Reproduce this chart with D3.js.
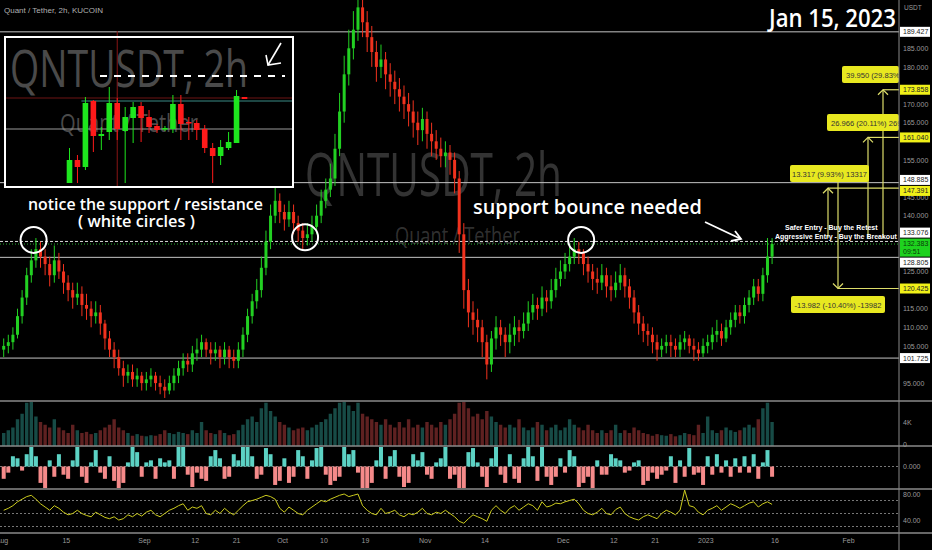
<!DOCTYPE html>
<html><head><meta charset="utf-8">
<script src="https://cdn.jsdelivr.net/npm/d3@7"></script>
<style>html,body{margin:0;background:#000;overflow:hidden}</style>
</head><body><svg id="c" width="932" height="550"></svg>
<script>
// ---------- DATA ----------
const startDay = "2022-08-01";
const firstOpen = 104;
const closes = [
105,106,108,113,118,124,128,131,129,127,
124,128,125,122,120,118,119,116,115,113,
114,111,107,104,102,99,97,98,96,97,
95,96,97,95,94,93,95,97,99,101,
100,103,104,106,104,103,104,102,104,102,
101,104,108,113,117,120,126,133,140,144,
141,139,141,138,136,134,135,137,140,144,
147,150,158,168,178,185,190,196,192,188,
184,180,182,178,176,174,172,170,168,165,
163,166,162,160,158,156,157,155,150,135,
120,114,112,110,106,100,107,110,108,106,
108,110,109,111,114,116,115,118,117,120,
123,125,127,129,131,130,127,125,123,122,
124,121,120,122,124,121,118,114,111,109,
108,106,104,105,106,105,104,106,107,105,
104,103,105,106,108,109,107,110,112,114,
113,116,118,121,119,124,129,132.383];
const highs = [
107,108,110,115,120,126,131,134,133,131,
129,132,130,127,124,122,122,121,119,117,
117,116,112,109,106,104,101,100,100,99,
98,98,99,98,97,96,97,99,101,103,
103,105,107,108,107,106,106,105,106,105,
104,106,110,115,119,123,129,136,143,148,
146,143,144,143,140,138,138,140,143,147,
150,154,162,173,183,190,195,201,199,195,
191,187,186,184,181,179,177,175,173,171,
168,169,168,165,163,161,160,159,157,152,
138,123,117,115,112,108,109,113,112,110,
111,113,112,114,117,119,118,121,120,123,
126,128,130,132,134,133,131,129,127,126,
127,126,124,125,127,126,123,120,116,113,
111,110,108,107,108,108,107,108,109,108,
107,106,107,108,110,112,111,112,114,116,
116,118,120,123,123,126,134,134];
const lows = [
102,103,104,107,111,116,122,126,126,124,
121,122,123,119,117,115,116,113,112,110,
111,108,104,102,99,97,94,95,94,94,
93,93,94,93,92,91,92,93,95,97,
98,98,101,102,102,100,101,99,100,99,
99,99,102,106,111,115,118,124,131,138,
138,136,137,135,133,131,132,133,135,138,
142,145,148,156,165,175,182,187,188,184,
180,176,177,174,172,170,168,166,164,161,
159,160,158,156,155,153,153,151,146,130,
115,110,108,106,102,96,98,104,105,102,
103,105,106,107,109,112,112,113,114,115,
118,121,123,125,127,127,124,122,120,119,
120,118,117,118,120,118,115,111,108,106,
105,103,101,102,103,102,102,102,104,103,
101,101,102,103,104,106,105,106,108,110,
111,111,114,116,117,117,122,127];
const volumes = [
2.0,2.5,3.0,4.5,5.5,7.5,8.0,5.0,4.0,3.5,
3.0,4.5,3.0,2.5,2.0,3.5,2.5,2.0,2.2,1.8,
2.0,2.5,3.0,3.5,4.5,3.0,2.5,2.0,1.5,1.8,
1.5,1.4,1.6,1.5,1.8,2.5,2.0,1.8,2.2,2.0,
1.8,2.5,2.0,4.0,2.5,2.0,1.8,2.5,2.0,1.6,
1.8,2.5,3.5,4.5,5.0,4.0,6.5,7.5,6.0,5.0,
4.0,3.5,3.0,2.5,2.8,3.0,2.5,3.0,3.5,4.0,
4.5,5.5,6.5,7.5,8.0,7.0,6.0,7.5,5.5,5.0,
4.5,4.0,3.5,4.5,3.5,3.0,4.0,3.0,4.5,3.0,
3.5,3.0,4.0,3.5,3.0,4.0,3.5,4.5,5.5,7.5,
8.0,6.5,5.0,5.5,4.5,6.0,5.0,4.0,3.5,3.0,
3.5,3.0,4.5,3.0,2.5,3.0,4.0,3.5,2.5,3.0,
3.5,2.5,3.0,4.5,3.5,3.0,2.5,3.5,2.5,2.0,
2.5,2.0,2.5,3.5,2.0,2.5,2.0,3.0,2.5,2.0,
1.8,1.5,1.8,1.6,1.5,1.8,1.4,1.6,2.0,1.8,
1.6,3.5,2.0,5.0,2.5,2.0,2.5,3.0,2.5,2.2,
2.5,3.0,3.5,3.0,4.5,6.5,7.5,4.0];
const hist = [
-0.6,-0.3,0.5,0.4,-0.2,0.6,1.2,0.5,-0.8,-1.2,
0.3,-0.5,0.6,-0.4,-0.6,0.3,1.0,-0.5,-0.8,0.2,
0.8,-0.3,-0.6,0.5,-0.7,-1.2,-0.8,0.2,1.0,0.7,
-0.5,0.2,0.3,-0.6,0.4,0.2,0.3,-0.6,1.0,1.2,
-0.4,-1.0,-0.3,-0.6,-0.7,0.5,0.8,0.4,-0.6,-0.5,
0.6,0.3,1.0,1.1,0.5,-0.6,-0.4,0.9,0.6,-0.9,
-0.7,0.4,-0.8,-0.5,0.8,0.5,-0.6,0.3,0.9,1.1,
-0.4,-0.9,-0.7,-0.5,1.1,0.6,0.8,-0.3,-1.2,-1.2,
-0.8,0.3,1.1,-0.6,0.5,0.8,-0.5,-1.0,-0.8,0.6,
0.3,0.7,-0.4,-0.6,0.2,0.4,1.0,-0.6,-0.4,-1.2,
-1.2,0.7,0.9,0.2,-0.5,-1.0,0.4,1.1,-0.4,-0.8,
0.6,-0.6,-0.8,0.4,1.0,0.5,-0.7,1.1,-0.5,-0.9,
-0.5,0.4,-0.3,0.8,0.5,-1.0,-0.8,-0.5,-1.2,0.3,
-0.4,-0.4,0.6,0.4,0.3,-0.3,-0.2,0.2,0.3,-0.9,
-0.7,-0.3,-0.6,-0.4,-0.2,0.5,-0.8,0.3,-0.5,0.9,
-0.4,-0.3,-0.9,0.5,-0.4,0.6,-0.3,0.3,-0.5,0.4,
-0.3,0.5,-0.3,0.6,-0.6,0.2,0.8,-0.5];
const rsi = [
55,58,62,68,72,76,78,72,65,60,
55,62,58,52,48,50,55,50,47,45,
52,48,44,42,45,40,42,48,45,50,
46,52,55,48,45,50,55,58,62,65,
55,60,58,62,50,48,55,50,58,52,
48,55,62,68,70,72,75,78,76,72,
58,52,60,55,50,48,55,60,65,70,
68,72,75,78,80,76,78,80,62,55,
50,48,58,50,52,55,48,45,50,48,
52,58,50,48,52,50,55,50,45,38,
35,42,48,45,42,38,55,62,55,50,
58,62,55,60,65,62,55,68,60,62,
66,65,68,70,72,65,55,50,48,52,
58,50,48,56,60,50,45,42,40,45,
48,45,42,50,55,52,48,55,86,62,
60,52,48,55,58,62,55,60,65,62,
58,62,66,68,60,65,68,64];
const xTickDates = ["2022-08-01","2022-08-15","2022-09-01","2022-09-12","2022-09-21","2022-10-01","2022-10-10","2022-10-19","2022-11-01","2022-11-14","2022-12-01","2022-12-12","2022-12-21","2023-01-01","2023-01-16","2023-02-01"];
const xTickLabels = ["Aug","15","Sep","12","21","Oct","10","19","Nov","14","Dec","12","21","2023","16","Feb"];
const priceTicks = [95,105,110,115,125,140,145,155,165,170,180,185];
const levelLines = [189.427,148.885,128.805,101.725];
const retestLevel = 133.076;
const lastPrice = 132.383;
const lastTime = "09:51";
const tagValues = [189.427,173.858,161.040,148.885,147.391,133.076,132.383,128.805,120.425,101.725];
const tagKinds  = ["w","y","y","w","y","w","g","w","y","w"];
const rangeFrom = [133.908,134.074,134.074,134.407];
const rangeTo   = [173.858,161.040,147.391,120.425];
const rangeLabels = ["39.950 (29.83%)","26.966 (20.11%) 2696","13.317 (9.93%) 13317","-13.982 (-10.40%) -13982"];
const circlePrices = [133.5,134.2,133.5];
const circleDates = ["2022-08-08","2022-10-06","2022-12-05"];
// inset (zoomed view) candles
const insetOpen  = [4,27,20,86,51,55,84,56,69,81,70,61,58,58,83,65,64,58,39,31,39,44,90];
const insetHigh  = [39,32,90,87,60,100,89,80,85,85,77,63,61,92,92,70,67,62,44,47,55,97,90];
const insetLow   = [4,4,17,35,37,47,47,4,44,45,54,54,56,54,47,47,47,34,4,22,37,44,88];
const insetClose = [27,20,84,51,53,84,58,70,80,69,60,57,59,83,63,64,57,39,31,40,45,91,88];

// ---------- SETUP ----------
const svg = d3.select("#c");
const W = 932, H = 550, AX = 899;
const GREEN = "#22d022", RED = "#f0321e";
const SMALL = "'Liberation Sans', Arial, sans-serif";
const BIG = "'Open Sans', 'Noto Sans', sans-serif";
svg.append("rect").attr("width", W).attr("height", H).attr("fill", "#000");
const defs = svg.append("defs");
function clip(id, x, y, w, h){ defs.append("clipPath").attr("id", id).append("rect").attr("x",x).attr("y",y).attr("width",w).attr("height",h); return `url(#${id})`; }
// place a text at (x0, baseline y0) and squeeze it horizontally to width w
function fitText(parent, str, x0, y0, w, size, weight, fill){
  const t = parent.append("text").attr("x",0).attr("y",0).attr("font-family",BIG).attr("font-size",size)
    .attr("font-weight",weight).attr("fill",fill).text(str);
  const len = t.node().getComputedTextLength() || w;
  t.attr("transform", `translate(${x0},${y0}) scale(${w/len},1)`);
  return t;
}

const parse = d3.timeParse("%Y-%m-%d");
const t0 = parse(startDay);
const dates = closes.map((_, i) => d3.timeHour.offset(d3.timeDay.offset(t0, i), 12));
const x = d3.scaleTime().domain([parse("2022-08-01"), parse("2023-02-01")]).range([1.4, 848]);
const y = d3.scaleLinear().domain([95, 140]).range([383.1, 215.7]);

const candles = closes.map((c, i) => ({d: dates[i], o: i ? closes[i-1] : firstOpen, c, h: highs[i], l: lows[i]}));

// ---------- PRICE PANE ----------
const pane = svg.append("g").attr("clip-path", clip("cp", 0, 0, AX, 401));

// watermark
fitText(pane, "QNTUSDT, 2h", 305, 196, 257, 60, 400, "rgba(255,255,255,0.2)");
fitText(pane, "Quant / Tether", 395, 244, 125, 24, 400, "rgba(255,255,255,0.2)");

// level lines
pane.selectAll("line.lvl").data(levelLines).join("line").attr("class","lvl")
  .attr("x1", 0).attr("x2", AX).attr("y1", d => y(d)).attr("y2", d => y(d))
  .attr("stroke", "#c4c4c4").attr("stroke-width", 1);
pane.append("line").attr("x1",0).attr("x2",AX).attr("y1",y(retestLevel)).attr("y2",y(retestLevel))
  .attr("stroke","#d8d8d8").attr("stroke-width",1).attr("stroke-dasharray","3,2");
pane.append("line").attr("x1",0).attr("x2",AX).attr("y1",y(lastPrice)).attr("y2",y(lastPrice))
  .attr("stroke","#2fcf3a").attr("stroke-width",1).attr("stroke-dasharray","1,2").attr("opacity",0.8);

// candles
const gC = pane.append("g");
gC.selectAll("line").data(candles).join("line")
  .attr("x1", d => x(d.d)).attr("x2", d => x(d.d))
  .attr("y1", d => y(d.h)).attr("y2", d => y(d.l))
  .attr("stroke", d => d.c >= d.o ? GREEN : RED).attr("stroke-width", 1);
gC.selectAll("rect").data(candles).join("rect")
  .attr("x", d => x(d.d) - 1.5).attr("width", 3)
  .attr("y", d => y(Math.max(d.o, d.c)))
  .attr("height", d => Math.max(1, Math.abs(y(d.o) - y(d.c))))
  .attr("fill", d => d.c >= d.o ? GREEN : RED);

// white circles
pane.selectAll("circle.wc").data(circlePrices).join("circle").attr("class","wc")
  .attr("cx", (d,i) => x(parse(circleDates[i]))).attr("cy", d => y(d)).attr("r", 13)
  .attr("fill","none").attr("stroke","#fff").attr("stroke-width",2);

// price range tools
const YEL = "#e8e820", YLINE = "#dede6a";
const toolX = [883, 868, 828, 838];
const boxY  = [66, 114, 165, 296];
const boxL  = [842, 827, 790, 791];
const boxR  = [899, 899, 869, 885];
const gT = pane.append("g");
rangeTo.forEach((tv, i) => {
  const xx = toolX[i], yTo = y(tv);
  const yFrom = i === 3 ? 173 : y(rangeFrom[i]);
  gT.append("line").attr("x1",xx).attr("x2",xx).attr("y1",yFrom).attr("y2",yTo).attr("stroke",YLINE).attr("stroke-width",1.2);
  gT.append("line").attr("x1",xx).attr("x2",AX).attr("y1",yTo).attr("y2",yTo).attr("stroke",YLINE).attr("stroke-width",1.2);
  const dir = tv > rangeFrom[i] ? 1 : -1;
  gT.append("path").attr("d", `M${xx-5},${yTo+5*dir} L${xx},${yTo} L${xx+5},${yTo+5*dir}`)
    .attr("fill","none").attr("stroke",YLINE).attr("stroke-width",1.2);
});
rangeLabels.forEach((lab, i) => {
  gT.append("rect").attr("x", boxL[i]).attr("y", boxY[i]).attr("width", boxR[i] - boxL[i]).attr("height", 17)
    .attr("rx", 2).attr("fill", YEL);
  const edge = boxR[i] >= AX;
  gT.append("text").attr("x", edge ? boxL[i] + 4 : (boxL[i] + boxR[i]) / 2).attr("y", boxY[i] + 11.5)
    .attr("text-anchor", edge ? "start" : "middle")
    .attr("font-family", SMALL).attr("font-size", 7.6).attr("fill", "#333").text(lab);
});

// entry notes
pane.append("text").attr("x", 785).attr("y", 230).attr("font-family",SMALL)
  .attr("font-weight","bold").attr("font-size",7).attr("fill","#fff").text("Safer Entry - Buy the Retest");
pane.append("text").attr("x", 775).attr("y", 238.5).attr("font-family",SMALL)
  .attr("font-weight","bold").attr("font-size",7).attr("fill","#fff").text("Aggressive Entry - Buy the Breakout");

// annotations
fitText(pane, "notice the support / resistance", 28, 210, 235, 16, 600, "#fff");
fitText(pane, "( white circles )", 78, 227, 117, 16, 600, "#fff");
fitText(pane, "support bounce needed", 473, 214, 229, 19, 600, "#fff");
pane.append("path").attr("d","M705,222 L741,239").attr("stroke","#fff").attr("stroke-width",1.8).attr("fill","none");
pane.append("path").attr("d","M731,241 L741,239 L735,231").attr("stroke","#fff").attr("stroke-width",1.8).attr("fill","none");

// header texts
svg.append("text").attr("x", 4).attr("y", 13).attr("font-family", SMALL).attr("font-size", 8)
  .attr("fill","#b0b0b0").text("Quant / Tether, 2h, KUCOIN");
fitText(svg, "Jan 15, 2023", 769, 27, 127, 26, 600, "#fff");

// ---------- INSET ----------
const iL = 5, iT = 37, iR = 293, iB = 187;
const inset = svg.append("g");
inset.append("rect").attr("x", iL).attr("y", iT).attr("width", iR-iL).attr("height", iB-iT).attr("fill","#000");
const ig = inset.append("g").attr("clip-path", clip("ci", iL, iT, iR-iL, iB-iT));
const ix = d3.scaleLinear().domain([0, 22]).range([69.5, 244.5]);
const iy = d3.scaleLinear().domain([0, 150]).range([187, 37]);
fitText(ig, "QNTUSDT, 2h", 10, 87, 238, 52, 400, "#4a4a4a");
fitText(ig, "Quant / Tether", 60, 132, 138, 26, 400, "#4a4a4a");
ig.append("line").attr("x1", iL).attr("x2", iR).attr("y1", iy(89)).attr("y2", iy(89)).attr("stroke","#6e1414").attr("stroke-width",1);
ig.append("line").attr("x1", ix(1.5)).attr("x2", iR).attr("y1", iy(86)).attr("y2", iy(86)).attr("stroke","#3a8c86").attr("stroke-width",1);
ig.append("line").attr("x1", iL).attr("x2", iR).attr("y1", iy(58)).attr("y2", iy(58)).attr("stroke","#9a9a9a").attr("stroke-width",1);
ig.append("line").attr("x1", ix(6)).attr("x2", ix(6)).attr("y1", iT).attr("y2", iB).attr("stroke","#8a1515").attr("stroke-width",1);
const iData = insetOpen.map((o,i)=>({i, o, h: insetHigh[i], l: insetLow[i], c: insetClose[i]}));
ig.selectAll("line.iw").data(iData).join("line").attr("class","iw")
  .attr("x1", d=>ix(d.i)).attr("x2", d=>ix(d.i)).attr("y1", d=>iy(d.h)).attr("y2", d=>iy(d.l))
  .attr("stroke", d=>d.c>=d.o?"#1ee61e":"#ff1a1a").attr("stroke-width",1);
ig.selectAll("rect.ib").data(iData).join("rect").attr("class","ib")
  .attr("x", d=>ix(d.i)-2.8).attr("width",5.6)
  .attr("y", d=>iy(Math.max(d.o,d.c))).attr("height", d=>Math.max(1.5, Math.abs(iy(d.o)-iy(d.c))))
  .attr("fill", d=>d.c>=d.o?"#1ee61e":"#ff1a1a");
ig.append("line").attr("x1", 100).attr("x2", 285).attr("y1", iy(111)).attr("y2", iy(111))
  .attr("stroke","#fff").attr("stroke-width",2).attr("stroke-dasharray","7,7");
ig.append("path").attr("d","M281,43 L268,65").attr("stroke","#fff").attr("stroke-width",1.6).attr("fill","none");
ig.append("path").attr("d","M266,55 L268,65 L281,63").attr("stroke","#fff").attr("stroke-width",1.6).attr("fill","none");
inset.append("rect").attr("x", iL).attr("y", iT).attr("width", iR-iL).attr("height", iB-iT)
  .attr("fill","none").attr("stroke","#fff").attr("stroke-width",2);
svg.append("line").attr("x1", ix(6)).attr("x2", ix(6)).attr("y1", 31).attr("y2", iT-1).attr("stroke","#8a1515");

// ---------- VOLUME PANE ----------
const vy = d3.scaleLinear().domain([0, 8]).range([444, 400]);
const gV = svg.append("g").attr("clip-path", clip("cv", 0, 402, AX, 44));
gV.selectAll("rect").data(candles).join("rect")
  .attr("x", (d) => x(d.d) - 1.7).attr("width", 3.4)
  .attr("y", (d,i) => vy(volumes[i])).attr("height", (d,i) => vy(0) - vy(volumes[i]) + 2)
  .attr("fill", d => d.c >= d.o ? "rgba(45,150,140,0.5)" : "rgba(190,65,65,0.5)");

// ---------- HISTOGRAM PANE ----------
const hy = d3.scaleLinear().domain([-1, 1]).range([487, 446]);
const gH = svg.append("g").attr("clip-path", clip("ch", 0, 447, AX, 41));
gH.append("line").attr("x1",0).attr("x2",AX).attr("y1",hy(0)).attr("y2",hy(0)).attr("stroke","#777").attr("stroke-dasharray","2,2");
gH.selectAll("rect").data(hist).join("rect")
  .attr("x", (d,i) => x(dates[i]) - 2).attr("width", 4)
  .attr("y", d => d >= 0 ? hy(d) : hy(0)).attr("height", d => Math.abs(hy(d) - hy(0)))
  .attr("fill", d => d >= 0 ? "#5cd2c4" : "#f58a8a");

// ---------- RSI PANE ----------
const ry = d3.scaleLinear().domain([40, 80]).range([520, 494]);
const gR = svg.append("g").attr("clip-path", clip("cr", 0, 490, AX, 42));
[70,50,30].forEach(v => gR.append("line").attr("x1",0).attr("x2",AX).attr("y1",ry(v)).attr("y2",ry(v))
  .attr("stroke","#777").attr("stroke-dasharray","2,2"));
gR.append("path").datum(rsi).attr("fill","none").attr("stroke","#cccc1e").attr("stroke-width",1)
  .attr("d", d3.line().x((d,i)=>x(dates[i])).y(d=>ry(d)));

// ---------- SEPARATORS & AXES ----------
[401, 446, 489, 533].forEach(yy => svg.append("line").attr("x1",0).attr("x2",W).attr("y1",yy).attr("y2",yy)
  .attr("stroke","#8a8a8a").attr("stroke-width",1.5));
svg.append("line").attr("x1",AX).attr("x2",AX).attr("y1",0).attr("y2",H).attr("stroke","#8a8a8a").attr("stroke-width",1);

function styleAxis(g){ g.select(".domain").remove(); g.selectAll("line").remove();
  g.selectAll("text").attr("font-family", SMALL).attr("font-size", 7).attr("fill", "#9a9a9a"); }
svg.append("g").attr("transform", `translate(${AX},0)`)
  .call(d3.axisRight(y).tickValues(priceTicks).tickFormat(d3.format(".3f")).tickSize(0).tickPadding(4)).call(styleAxis);
svg.append("text").attr("x", 904).attr("y", 10).attr("font-family",SMALL).attr("font-size",6.5).attr("fill","#9a9a9a").text("USDT");
svg.append("g").attr("transform", `translate(${AX},0)`)
  .call(d3.axisRight(vy).tickValues([0,4]).tickFormat(d => d ? d + "K" : "0").tickSize(0).tickPadding(4)).call(styleAxis);
svg.append("g").attr("transform", `translate(${AX},0)`)
  .call(d3.axisRight(hy).tickValues([0]).tickFormat(d3.format(".3f")).tickSize(0).tickPadding(4)).call(styleAxis);
svg.append("g").attr("transform", `translate(${AX},0)`)
  .call(d3.axisRight(ry).tickValues([80,40]).tickFormat(d3.format(".2f")).tickSize(0).tickPadding(4)).call(styleAxis);
const xAx = svg.append("g").attr("transform", `translate(0,535)`)
  .call(d3.axisBottom(x).tickValues(xTickDates.map(parse)).tickFormat((d,i) => xTickLabels[i]).tickSize(0).tickPadding(3)).call(styleAxis);
xAx.selectAll("text").filter((d,i) => i === 0).attr("text-anchor", "end").attr("dx", "0.9em");

// ---------- PRICE TAGS (with collision resolution) ----------
const tags = tagValues.map((v,i) => ({v, kind: tagKinds[i], h: tagKinds[i] === "g" ? 18 : 10, c: y(v)}));
let groups = tags.map(t => ({items:[t], centers:[t.c], h:t.h, top:t.c - t.h/2}));
let merged = true;
while (merged) {
  merged = false;
  for (let k = 0; k < groups.length - 1; k++) {
    const a = groups[k], b = groups[k+1];
    if (b.top < a.top + a.h + 1) {
      const items = a.items.concat(b.items), centers = a.centers.concat(b.centers);
      const h = items.reduce((s,t)=>s+t.h,0) + (items.length-1);
      const top = d3.mean(centers) - h/2;
      groups.splice(k, 2, {items, centers, h, top});
      merged = true; break;
    }
  }
}
groups.forEach(g => { let yy = g.top; g.items.forEach(t => { t.top = yy; yy += t.h + 1; }); });
const gTag = svg.append("g");
tags.forEach(t => {
  const fill = t.kind === "w" ? "#ffffff" : t.kind === "y" ? "#f0f018" : "#1ed21e";
  gTag.append("rect").attr("x", 900).attr("y", t.top).attr("width", 30).attr("height", t.h).attr("fill", fill);
  gTag.append("text").attr("x", 903).attr("y", t.top + 7.5).attr("font-family", SMALL).attr("font-size", 7)
    .attr("fill", t.kind === "g" ? "#0a3a0a" : "#222").text(d3.format(".3f")(t.v));
  if (t.kind === "g") gTag.append("text").attr("x", 903).attr("y", t.top + 15.5).attr("font-family", SMALL)
    .attr("font-size", 7).attr("fill", "#0a3a0a").text(lastTime);
});
</script></body></html>
